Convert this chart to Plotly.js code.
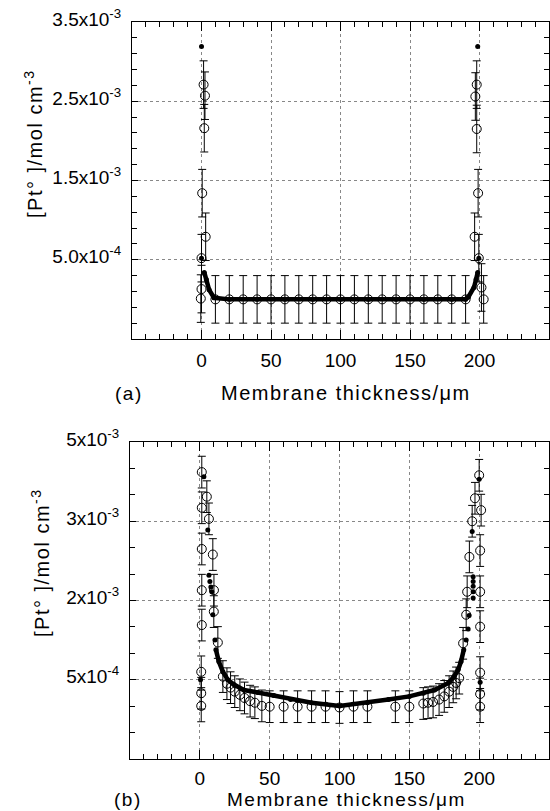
<!DOCTYPE html>
<html>
<head>
<meta charset="utf-8">
<script src="https://cdn.plot.ly/plotly-3.0.1.min.js"></script>
<style>
html,body{margin:0;padding:0;background:#fff;}
.annotation-text{letter-spacing:1.5px;}
</style>
</head>
<body>
<div id="chart" style="width:550px;height:811px;"></div>
<script>
// ---------- Panel (a) ----------
const aCircX = [1.5, 2.5, 2, 0.5, 3, 0, 0, -0.5,
  10, 20, 30, 40, 50, 60, 70, 80, 90, 100, 110, 120, 130, 140, 150, 160, 170, 180, 190,
  198, 197, 198, 199, 196.5, 199.5, 201.4, 203];
const aCircY = [2.71e-3, 2.57e-3, 2.16e-3, 1.34e-3, 0.79e-3, 0.52e-3, 0.13e-3, 0.01e-3,
  0, 0, 0, 0, 0, 0, 0, 0, 0, 0, 0, 0, 0, 0, 0, 0, 0, 0, 0,
  2.71e-3, 2.56e-3, 2.15e-3, 1.34e-3, 0.79e-3, 0.52e-3, 0.15e-3, 0.0];
const aErr = 3.0e-4;
const aPeakX = [0, 0, 199.5, 198.7];
const aPeakY = [3.19e-3, 0.52e-3, 0.52e-3, 3.19e-3];
const aModelX = [2, 3.5, 5.5, 9, 20, 40, 60, 80, 100, 120, 140, 160, 180, 190, 192, 196, 197.5, 198.7];
const aModelY = [0.34e-3, 0.25e-3, 0.12e-3, 0.02e-3, 0, 0, 0, 0, 0, 0, 0, 0, 0, 0, 0.03e-3, 0.15e-3, 0.25e-3, 0.34e-3];

// ---------- Panel (b) ----------
const bCircX = [1.4, 1.4, 1.4, 1.4, 1.4, 1, 1, 1,
  5, 6.5, 9.3, 10.1, 10, 12.9, 16.5, 19.4, 22, 25, 28.7, 32, 36, 39.4, 44.4, 50,
  60, 70, 80, 90, 100, 110, 120, 140, 150,
  160, 163.4, 167, 171.3, 175, 178.5, 181.4, 183.5, 185.7, 188.5, 190.7, 191.4, 193, 195, 197,
  200, 201.4, 200.7, 200.7, 200.7, 200.7, 200.7, 200.7];
const bCircY = [3.12e-3, 2.67e-3, 2.15e-3, 1.63e-3, 1.19e-3, 0.60e-3, 0.33e-3, 0.17e-3,
  2.81e-3, 2.53e-3, 2.08e-3, 1.63e-3, 1.36e-3, 0.97e-3, 0.54e-3, 0.45e-3, 0.40e-3, 0.35e-3, 0.31e-3, 0.27e-3, 0.23e-3, 0.21e-3, 0.17e-3, 0.16e-3,
  0.16e-3, 0.16e-3, 0.16e-3, 0.16e-3, 0.15e-3, 0.16e-3, 0.16e-3, 0.16e-3, 0.16e-3,
  0.20e-3, 0.21e-3, 0.22e-3, 0.25e-3, 0.29e-3, 0.35e-3, 0.41e-3, 0.46e-3, 0.52e-3, 0.96e-3, 1.32e-3, 1.61e-3, 2.05e-3, 2.50e-3, 2.79e-3,
  3.08e-3, 2.64e-3, 2.13e-3, 1.61e-3, 1.17e-3, 0.59e-3, 0.32e-3, 0.16e-3];
const bErr = 2.0e-4;
const bDotX = [2.9, 5.7, 6.5, 7.2, 7.9, 8.6, 9.3, 10.8, 0.5,
  200, 195, 195.7, 195.7, 195.7, 195.7, 195.7, 192.8, 192.1, 190.7, 200.7];
const bDotY = [3.06e-3, 2.39e-3, 1.82e-3, 1.74e-3, 1.67e-3, 1.61e-3, 1.32e-3, 1.00e-3, 0.50e-3,
  3.03e-3, 2.37e-3, 1.80e-3, 1.74e-3, 1.68e-3, 1.61e-3, 1.53e-3, 1.31e-3, 1.14e-3, 1.00e-3, 0.47e-3];
const bModelX = [11.5, 13.6, 16.5, 20, 24.4, 31.5, 41.5, 53, 65, 80, 100, 120, 135, 150, 160, 168, 178, 182, 185, 187, 189];
const bModelY = [0.88e-3, 0.73e-3, 0.60e-3, 0.50e-3, 0.44e-3, 0.37e-3, 0.34e-3, 0.30e-3, 0.25e-3, 0.21e-3, 0.17e-3, 0.21e-3, 0.25e-3, 0.29e-3, 0.33e-3, 0.37e-3, 0.46e-3, 0.54e-3, 0.63e-3, 0.73e-3, 0.88e-3];

// ---------- Axes labels ----------
const xTickVals = [0, 50, 100, 150, 200];
const xTickText = ['0', '50', '100', '150', '200'];
const yTickVals = [5e-4, 1.5e-3, 2.5e-3, 3.5e-3];
const aYTickText = ['5.0x10<sup>-4</sup>', '1.5x10<sup>-3</sup>', '2.5x10<sup>-3</sup>', '3.5x10<sup>-3</sup>'];
const bYTickText = ['5x10<sup>-4</sup>', '2x10<sup>-3</sup>', '3x10<sup>-3</sup>', '5x10<sup>-3</sup>'];
const xTitle = 'Membrane thickness/μm';
const yTitle = '[Pt° ]/mol cm<sup>-3</sup>';

const W = 550, H = 811;
const px = v => v / W;
const py = v => (H - v) / H;

function circTrace(x, y, err, xa, ya) {
  return {x: x, y: y, xaxis: xa, yaxis: ya, type: 'scatter', mode: 'markers',
    marker: {symbol: 'circle-open', size: 9, color: '#000', line: {width: 1, color: '#000'}},
    error_y: {type: 'constant', value: err, color: '#000', thickness: 1, width: 4},
    hoverinfo: 'skip'};
}
function dotTrace(x, y, xa, ya) {
  return {x: x, y: y, xaxis: xa, yaxis: ya, type: 'scatter', mode: 'markers',
    marker: {symbol: 'circle', size: 5, color: '#000'}, hoverinfo: 'skip'};
}
function lineTrace(x, y, xa, ya) {
  return {x: x, y: y, xaxis: xa, yaxis: ya, type: 'scatter', mode: 'lines+markers',
    line: {color: '#000', width: 4.5}, marker: {symbol: 'circle', size: 5, color: '#000'}, hoverinfo: 'skip'};
}

const data = [
  circTrace(aCircX, aCircY, aErr, 'x', 'y'),
  lineTrace(aModelX, aModelY, 'x', 'y'),
  dotTrace(aPeakX, aPeakY, 'x', 'y'),
  circTrace(bCircX, bCircY, bErr, 'x2', 'y2'),
  lineTrace(bModelX, bModelY, 'x2', 'y2'),
  dotTrace(bDotX, bDotY, 'x2', 'y2')
];

function xAxis(domain, anchor, standoff) {
  return {domain: domain, anchor: anchor, range: [-50, 250], tickmode: 'array', tickvals: xTickVals, ticktext: xTickText,
    ticks: 'inside', ticklen: 9, tickwidth: 1, tickcolor: '#000', showline: true, linecolor: '#000', linewidth: 1,
    mirror: 'ticks', showgrid: true, gridcolor: '#888', griddash: 'dot', gridwidth: 1, zeroline: false,
    ticklabelstandoff: standoff, tickfont: {size: 19},
    minor: {tickmode: 'linear', tick0: 0, dtick: 10, ticks: 'inside', ticklen: 5, tickcolor: '#000', tickwidth: 1, showgrid: false}};
}
function yAxis(domain, anchor, ticktext, minorDt) {
  return {domain: domain, anchor: anchor, range: [-5e-4, 3.5e-3], tickmode: 'array', tickvals: yTickVals, ticktext: ticktext,
    ticks: 'inside', ticklen: 6, tickwidth: 1, tickcolor: '#000', showline: true, linecolor: '#000', linewidth: 1,
    mirror: 'ticks', showgrid: true, gridcolor: '#888', griddash: 'dot', gridwidth: 1, zeroline: false,
    ticklabelstandoff: 6, ticklabelshift: -3, tickfont: {size: 19},
    minor: {tickmode: 'linear', tick0: 5e-4, dtick: minorDt, ticks: 'inside', ticklen: 5, tickcolor: '#000', tickwidth: 1, showgrid: false}};
}

const layout = {
  width: W, height: H, margin: {l: 0, r: 0, t: 0, b: 0}, showlegend: false,
  paper_bgcolor: '#fff', plot_bgcolor: '#fff',
  font: {family: 'Liberation Sans, Arial, sans-serif', size: 19, color: '#000'},
  xaxis: xAxis([px(132), px(549)], 'y', 4),
  yaxis: yAxis([py(339), py(22)], 'x', aYTickText, 2e-4),
  xaxis2: xAxis([px(130), px(549)], 'y2', 2),
  yaxis2: yAxis([py(759), py(442)], 'x2', bYTickText, 1e-3 / 3),
  annotations: [
    {xref: 'paper', yref: 'paper', x: px(33), y: py(144), text: yTitle, textangle: -90, showarrow: false, xanchor: 'center', yanchor: 'middle', font: {size: 20}},
    {xref: 'paper', yref: 'paper', x: px(40), y: py(563), text: yTitle, textangle: -90, showarrow: false, xanchor: 'center', yanchor: 'middle', font: {size: 20}},
    {xref: 'paper', yref: 'paper', x: px(346), y: py(393), text: xTitle, showarrow: false, xanchor: 'center', yanchor: 'middle', font: {size: 20}},
    {xref: 'paper', yref: 'paper', x: px(346), y: py(799), text: xTitle, showarrow: false, xanchor: 'center', yanchor: 'middle', font: {size: 19}},
    {xref: 'paper', yref: 'paper', x: px(129), y: py(393), text: '(a)', showarrow: false, xanchor: 'center', yanchor: 'middle', font: {size: 19}},
    {xref: 'paper', yref: 'paper', x: px(128), y: py(799), text: '(b)', showarrow: false, xanchor: 'center', yanchor: 'middle', font: {size: 19}}
  ]
};

Plotly.newPlot('chart', data, layout, {staticPlot: true, displayModeBar: false});
</script>
</body>
</html>
